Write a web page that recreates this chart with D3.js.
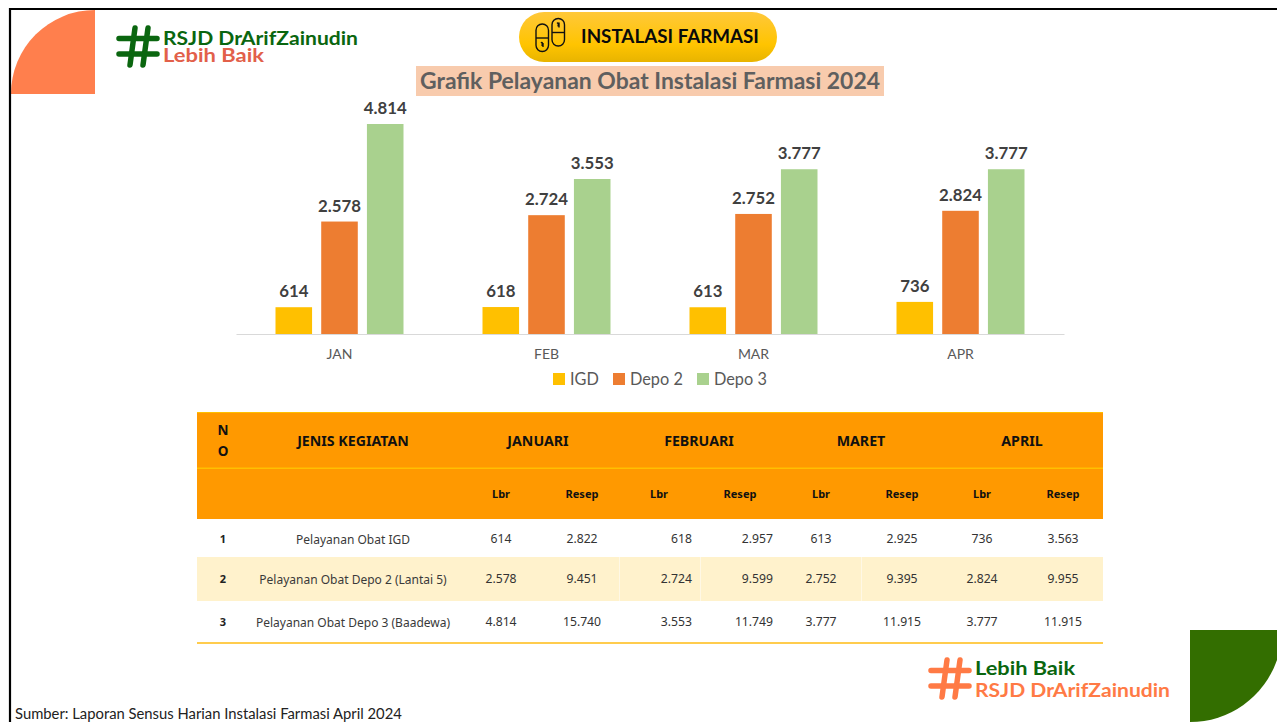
<!DOCTYPE html>
<html><head><meta charset="utf-8">
<script src="https://cdnjs.cloudflare.com/ajax/libs/d3/7.8.5/d3.min.js"></script>
<style>html,body{margin:0;padding:0;background:#fff;overflow:hidden}svg{display:block}</style>
</head><body><svg id="c" width="1277" height="722"></svg>
<script>
const months=["JAN","FEB","MAR","APR"];
const seriesNames=["IGD","Depo 2","Depo 3"];
const igdLbr=[614,618,613,736];
const depo2Lbr=[2578,2724,2752,2824];
const depo3Lbr=[4814,3553,3777,3777];
const igdResep=[2822,2957,2925,3563];
const depo2Resep=[9451,9599,9395,9955];
const depo3Resep=[15740,11749,11915,11915];
const seriesColors=["#FFC000","#ED7D31","#A9D18E"];
const monthNames=["JANUARI","FEBRUARI","MARET","APRIL"];
const rowNames=["Pelayanan Obat IGD","Pelayanan Obat Depo 2 (Lantai 5)","Pelayanan Obat Depo 3 (Baadewa)"];

const lbrSeries=[igdLbr,depo2Lbr,depo3Lbr], resepSeries=[igdResep,depo2Resep,depo3Resep];
const fmt=d3.formatLocale({decimal:",",thousands:".",grouping:[3],currency:["",""]}).format(",d");
const svg=d3.select("#c");
const calibri="Lato, Carlito, sans-serif", gothic="'Noto Sans', 'Open Sans', sans-serif", raleway="Lato, sans-serif";

// corner decorations
svg.append("path").attr("fill","#FF7F4D").attr("d",`M11,94 A84,84 0 0 1 95,10 L95,94 Z`);
svg.append("path").attr("fill","#336E00").attr("d",`M1190,630 L1277,630 L1277,660 A92,92 0 0 1 1190,722 Z`);
// frame
svg.append("path").attr("fill","none").attr("stroke","#000").attr("stroke-width",2.2).attr("d","M10,722 L10,9 L1277,9");

function hash(x,y,color,sw){
  const g=svg.append("g").attr("transform",`translate(${x},${y})`).attr("stroke",color).attr("stroke-width",sw).attr("stroke-linecap","round").attr("fill","none");
  g.append("path").attr("d","M0,10.5 H38 M0,26 H38 M16,0 L11,37 M29,0 L24,37");
}
const logo=(x,yy,s,size,fill,len)=>svg.append("text").attr("x",x).attr("y",yy).attr("font-family",raleway).attr("font-weight",700).attr("font-size",size).attr("fill",fill).attr("textLength",len).attr("lengthAdjust","spacingAndGlyphs").text(s);
hash(119,28,"#0A660F",5.5);
logo(163,45,"RSJD DrArifZainudin",19.5,"#0A660F",195);
logo(163,62,"Lebih Baik",19.5,"#E2604A",101);
hash(931,660,"#FF7A45",5.5);
logo(975,675,"Lebih Baik",19.5,"#0A660F",100);
logo(975,697,"RSJD DrArifZainudin",19.5,"#FF7A45",195);

// pill
const defs=svg.append("defs");
const lg=defs.append("linearGradient").attr("id","pill").attr("x1",0).attr("y1",0).attr("x2",0).attr("y2",1);
lg.append("stop").attr("offset","0%").attr("stop-color","#FFC83A");
lg.append("stop").attr("offset","65%").attr("stop-color","#FFC400");
lg.append("stop").attr("offset","100%").attr("stop-color","#E8B400");
svg.append("rect").attr("x",519).attr("y",12).attr("width",258).attr("height",50).attr("rx",25).attr("fill","url(#pill)");
function capsule(x,y){
  const g=svg.append("g").attr("transform",`translate(${x},${y})`).attr("fill","none").attr("stroke","#111").attr("stroke-width",1.4);
  g.append("rect").attr("width",12.5).attr("height",27.5).attr("rx",6.2);
  g.append("path").attr("d","M0,14 H12.5");
  return g;
}
capsule(536,24).append("path").attr("d","M5,19 q2,-2 1,3 M7,19 v4");
capsule(552,18.5).append("path").attr("d","M5,5 q2,-2 1,3 M7,4 v5");
svg.append("text").attr("x",670).attr("y",43).attr("text-anchor","middle").attr("font-family",calibri).attr("font-weight",700).attr("font-size",18.8).attr("fill","#0a0a0a").text("INSTALASI FARMASI");

// title
svg.append("rect").attr("x",416).attr("y",66).attr("width",468).attr("height",30).attr("fill","#F8CBAD");
svg.append("text").attr("x",650).attr("y",89).attr("text-anchor","middle").attr("font-family",raleway).attr("font-weight",700).attr("font-size",22).attr("fill","#5f5f5f").attr("textLength",460).attr("lengthAdjust","spacingAndGlyphs").text("Grafik Pelayanan Obat Instalasi Farmasi 2024");

// chart
const x0=d3.scaleBand().domain(months).range([236,1064]);
const x1=d3.scaleBand().domain(seriesNames).range([0,128]).paddingInner(0.2);
const y=d3.scaleLinear().domain([0,4814]).range([334,124]);
const groupOff=(x0.bandwidth()-128)/2;
const chart=svg.append("g");
const axis=d3.axisBottom(x0).tickSize(0).tickPadding(15);
const ag=chart.append("g").attr("transform","translate(0,334)").call(axis);
ag.select(".domain").attr("stroke","#D9D9D9").attr("stroke-width",1.2);
ag.selectAll("text").attr("font-family",calibri).attr("font-size",14).attr("fill","#595959");
seriesNames.forEach((s,i)=>{
  const g=chart.append("g");
  g.selectAll("rect").data(lbrSeries[i]).join("rect")
    .attr("x",(d,j)=>x0(months[j])+groupOff+x1(s)).attr("width",x1.bandwidth())
    .attr("y",d=>y(d)).attr("height",d=>y(0)-y(d)).attr("fill",seriesColors[i]);
  g.selectAll("text").data(lbrSeries[i]).join("text")
    .attr("x",(d,j)=>x0(months[j])+groupOff+x1(s)+x1.bandwidth()/2).attr("y",d=>y(d)-10)
    .attr("text-anchor","middle").attr("font-family",calibri).attr("font-weight",700).attr("font-size",16.8).attr("fill","#404040").text(d=>fmt(d));
});
// legend
const legendX=[553,613,697];
seriesNames.forEach((s,i)=>{
  svg.append("rect").attr("x",legendX[i]).attr("y",373).attr("width",12).attr("height",12).attr("fill",seriesColors[i]);
  svg.append("text").attr("x",legendX[i]+17).attr("y",385).attr("font-family",calibri).attr("font-size",16.3).attr("fill","#595959").text(s);
});

// table
const T=svg.append("g").attr("font-family",gothic);
T.append("rect").attr("x",197).attr("y",412).attr("width",906).attr("height",107).attr("fill","#FF9900");
T.append("rect").attr("x",197).attr("y",467.5).attr("width",906).attr("height",1.5).attr("fill","#FFC000");
T.append("rect").attr("x",197).attr("y",412).attr("width",906).attr("height",1).attr("fill","#FFC000");
T.append("rect").attr("x",197).attr("y",557).attr("width",906).attr("height",44).attr("fill","#FFF2CC");
[619,700,861].forEach(vx=>T.append("rect").attr("x",vx).attr("y",557).attr("width",0.7).attr("height",44).attr("fill","#FFFBEF"));
T.append("rect").attr("x",197).attr("y",642).attr("width",906).attr("height",2).attr("fill","#FFCC4D");
const txt=(x,yy,s,size,w,fill,anchor)=>T.append("text").attr("x",x).attr("y",yy).attr("text-anchor",anchor||"middle").attr("font-size",size).attr("font-weight",w).attr("fill",fill).text(s);
txt(223,435,"N",13.5,700,"#111"); txt(223,456,"O",13.5,700,"#111");
txt(353,445.5,"JENIS KEGIATAN",14.2,700,"#111");
const monthX=[538,699,861,1022], lbrX=[501,659,821,982], resepX=[582,740,902,1063];
monthNames.forEach((m,i)=>{
  txt(monthX[i],445.5,m,14.2,700,"#111");
  txt(lbrX[i],498,"Lbr",11,700,"#111");
  txt(resepX[i],498,"Resep",11,700,"#111");
});
const rowY=[543.5,583.5,626.5];
rowNames.forEach((r,k)=>{
  txt(223,rowY[k]-.5,k+1,11,700,"#222");
  txt(353,rowY[k],r,12,400,"#3a3a3a");
  months.forEach((m,i)=>{
    if(i===1){
      txt(692,rowY[k]-1,fmt(lbrSeries[k][i]),12.2,400,"#333","end");
      txt(773,rowY[k]-1,fmt(resepSeries[k][i]),12.2,400,"#333","end");
    } else {
      txt(lbrX[i],rowY[k]-1,fmt(lbrSeries[k][i]),12.2,400,"#333");
      txt(resepX[i],rowY[k]-1,fmt(resepSeries[k][i]),12.2,400,"#333");
    }
  });
});
// source
svg.append("text").attr("x",15).attr("y",719).attr("font-family",calibri).attr("font-size",14.8).attr("fill","#222").text("Sumber: Laporan Sensus Harian Instalasi Farmasi April 2024");
</script></body></html>
